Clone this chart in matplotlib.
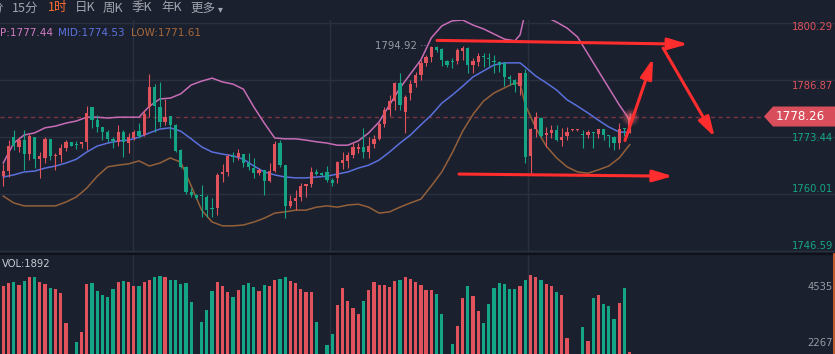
import numpy as np
import matplotlib
matplotlib.use('Agg')
import matplotlib.pyplot as plt
import matplotlib.transforms as mtransforms
from matplotlib.patches import Polygon
from matplotlib.lines import Line2D

# 1h candles (red = up, green = down)
opens = [
    1764.2, 1765.4, 1773.4, 1771.1, 1772.7, 1769.4, 1773.4, 1768.2, 1768.5, 1773.0,
    1769.0, 1769.2, 1770.8, 1772.3, 1771.6, 1771.8, 1772.3, 1780.5, 1777.4, 1775.8,
    1774.6, 1773.0, 1772.3, 1774.6, 1772.0, 1773.2, 1774.8, 1773.9, 1780.5, 1785.2,
    1780.5, 1777.0, 1778.4, 1776.3, 1770.4, 1766.4, 1760.5, 1759.8, 1759.6, 1759.3,
    1756.6, 1756.7, 1764.7, 1765.2, 1769.0, 1768.7, 1769.4, 1767.3, 1766.1, 1764.9,
    1765.7, 1763.1, 1765.4, 1772.0, 1766.8, 1757.2, 1758.3, 1759.3, 1761.9, 1762.4,
    1765.2, 1764.9, 1765.2, 1763.3, 1763.8, 1767.3, 1767.8, 1769.2, 1770.6, 1771.1,
    1769.9, 1771.8, 1773.0, 1776.5, 1779.8, 1781.9, 1786.2, 1779.3, 1783.8, 1786.2,
    1788.0, 1790.9, 1792.3, 1794.6, 1794.2, 1791.3, 1791.1, 1791.3, 1793.7, 1794.4,
    1790.4, 1791.1, 1792.5, 1792.0, 1791.3, 1791.1, 1790.9, 1787.6, 1786.9, 1785.4,
    1788.5, 1769.0, 1775.3, 1777.9, 1773.9, 1774.4, 1775.1, 1772.7, 1773.7, 1775.0,
    1775.0, 1774.0, 1773.9, 1774.5, 1774.1, 1775.3, 1773.8, 1773.4, 1772.0, 1775.4,
    1774.4]
highs = [
    1767.1, 1772.7, 1775.1, 1773.4, 1775.1, 1774.1, 1773.4, 1769.9, 1773.4, 1773.0,
    1769.7, 1771.8, 1772.7, 1772.3, 1772.5, 1772.3, 1780.7, 1780.5, 1778.6, 1775.8,
    1775.1, 1773.4, 1776.3, 1775.1, 1774.4, 1775.1, 1776.7, 1779.8, 1788.3, 1785.9,
    1786.4, 1782.4, 1778.4, 1776.5, 1770.5, 1766.5, 1761.4, 1760.0, 1762.1, 1759.8,
    1759.1, 1764.9, 1767.1, 1769.4, 1769.9, 1770.6, 1769.4, 1769.7, 1768.5, 1766.1,
    1765.7, 1767.3, 1772.5, 1772.7, 1766.8, 1759.8, 1760.9, 1762.6, 1762.4, 1766.4,
    1765.9, 1765.2, 1766.6, 1763.8, 1767.8, 1769.9, 1769.9, 1772.0, 1772.0, 1775.6,
    1773.4, 1773.9, 1777.0, 1780.5, 1783.3, 1786.4, 1788.5, 1783.3, 1786.9, 1788.7,
    1791.6, 1792.7, 1794.92, 1794.8, 1794.4, 1791.6, 1792.0, 1794.4, 1794.8, 1794.7,
    1792.0, 1793.2, 1793.2, 1793.2, 1792.7, 1791.3, 1791.1, 1788.0, 1787.1, 1788.5,
    1789.5, 1775.6, 1779.3, 1778.1, 1775.8, 1776.3, 1776.3, 1775.6, 1775.8, 1775.2,
    1775.2, 1775.1, 1775.1, 1774.5, 1775.4, 1775.4, 1773.9, 1773.7, 1776.7, 1775.5,
    1779.1]
lows = [
    1761.9, 1764.0, 1770.4, 1769.9, 1765.7, 1768.0, 1766.1, 1763.8, 1767.3, 1768.0,
    1765.7, 1767.5, 1770.1, 1771.3, 1770.6, 1770.8, 1770.4, 1775.6, 1774.6, 1772.7,
    1772.3, 1770.8, 1771.3, 1768.7, 1769.7, 1772.7, 1773.2, 1773.7, 1778.1, 1774.6,
    1775.8, 1776.3, 1773.2, 1770.0, 1766.2, 1760.0, 1759.3, 1758.8, 1754.6, 1754.6,
    1754.6, 1755.1, 1762.8, 1764.2, 1767.5, 1768.0, 1766.4, 1765.7, 1763.8, 1764.5,
    1759.8, 1762.8, 1765.2, 1766.4, 1754.3, 1756.7, 1756.2, 1758.3, 1759.3, 1761.6,
    1764.5, 1764.2, 1762.8, 1761.9, 1762.6, 1765.9, 1766.1, 1768.5, 1769.7, 1768.5,
    1768.5, 1770.8, 1772.7, 1775.8, 1778.4, 1779.8, 1779.8, 1774.4, 1782.2, 1785.2,
    1786.9, 1790.2, 1791.1, 1793.5, 1790.2, 1790.0, 1789.7, 1790.6, 1791.6, 1788.5,
    1788.5, 1790.2, 1789.9, 1790.2, 1788.5, 1788.7, 1785.4, 1785.7, 1784.0, 1783.3,
    1767.3, 1764.9, 1773.4, 1773.4, 1771.1, 1773.2, 1772.5, 1771.3, 1772.7, 1774.9,
    1774.9, 1770.8, 1773.2, 1770.8, 1773.2, 1772.7, 1771.1, 1770.4, 1770.6, 1773.7,
    1774.4]
closes = [
    1765.4, 1771.3, 1771.3, 1772.7, 1769.4, 1773.7, 1768.2, 1769.0, 1773.0, 1769.0,
    1769.2, 1770.8, 1772.3, 1771.3, 1771.5, 1772.3, 1779.1, 1777.4, 1775.8, 1774.6,
    1773.0, 1772.5, 1774.6, 1772.3, 1773.4, 1774.6, 1773.7, 1778.8, 1785.2, 1780.7,
    1777.0, 1778.1, 1776.3, 1770.1, 1766.4, 1760.5, 1759.8, 1759.1, 1759.5, 1756.2,
    1756.5, 1764.5, 1765.2, 1769.0, 1768.7, 1769.7, 1767.3, 1766.4, 1764.9, 1765.7,
    1763.1, 1765.4, 1771.8, 1766.8, 1757.2, 1758.3, 1759.1, 1761.9, 1762.4, 1765.2,
    1764.7, 1764.5, 1763.3, 1762.6, 1767.5, 1768.0, 1769.2, 1771.1, 1771.1, 1769.9,
    1771.3, 1773.0, 1776.5, 1779.8, 1781.9, 1786.2, 1781.0, 1782.9, 1785.9, 1788.0,
    1790.9, 1792.3, 1794.6, 1793.9, 1791.6, 1790.4, 1791.0, 1793.9, 1794.4, 1790.4,
    1791.3, 1792.5, 1792.3, 1791.8, 1791.1, 1790.4, 1787.6, 1787.1, 1785.7, 1788.5,
    1768.7, 1775.3, 1778.1, 1773.7, 1774.4, 1775.1, 1772.7, 1773.4, 1774.6, 1775.1,
    1775.1, 1773.9, 1774.6, 1774.4, 1775.3, 1773.9, 1773.7, 1772.0, 1775.3, 1775.3,
    1778.26]
volumes = [
    4576, 4683, 4738, 4629, 4778, 4952, 4952, 4738, 4657, 4495,
    4454, 4304, 3090, 600, 2308, 2725, 4670, 4697, 4373, 4211,
    4130, 4454, 4738, 4778, 4738, 4576, 4576, 4738, 4819, 4952,
    4981, 4940, 4819, 4819, 4670, 4697, 3928, 600, 3118, 3604,
    4373, 4738, 4576, 4333, 4130, 4414, 4616, 4697, 4535, 4373,
    4616, 4576, 4819, 4859, 4940, 4778, 4697, 4454, 4333, 4333,
    3118, 600, 2186, 2632, 3806, 4495, 3968, 3685, 3442, 3968,
    4414, 4738, 4629, 4616, 4535, 4778, 4819, 4940, 4871, 4738,
    4620, 4414, 4414, 4264, 3442, 600, 2227, 2956, 4090, 4576,
    4171, 3563, 3077, 3847, 4495, 4697, 4657, 4454, 4454, 4576,
    4819, 5021, 4940, 4819, 4657, 4576, 4333, 4211, 2470, 600,
    600, 2915, 2348, 4090, 4211, 3847, 3766, 3239, 3887, 4495,
    1892]

# bollinger bands as drawn on the screenshot
band_idx = list(range(0, 99, 2)) + [99] + list(range(100, 121, 2))
band_up = [
    1767.3, 1772.0, 1773.9, 1774.4, 1775.6, 1776.0, 1776.7, 1777.2, 1778.1, 1778.1,
    1777.9, 1778.1, 1778.1, 1778.1, 1780.7, 1782.4, 1782.6, 1783.6, 1785.7, 1786.6,
    1787.3, 1786.4, 1785.9, 1784.7, 1780.5, 1776.7, 1773.2, 1773.0, 1773.0, 1772.7,
    1772.3, 1772.0, 1771.5, 1771.5, 1772.5, 1774.4, 1777.0, 1781.0, 1785.0, 1788.3,
    1791.6, 1796.8, 1799.6, 1800.8, 1801.0, 1799.8, 1798.9, 1797.7, 1796.5, 1796.1,
    1797.5,
    1802.9, 1804.5, 1801.7, 1800.5, 1799.1, 1797.0, 1793.0, 1789.0, 1785.0, 1781.0,
    1777.44]
band_mid = [
    1764.0, 1764.5, 1765.2, 1765.4, 1766.1, 1766.6, 1767.3, 1768.2, 1769.9, 1771.3,
    1772.0, 1772.5, 1772.7, 1773.4, 1774.4, 1775.3, 1775.6, 1774.8, 1773.0, 1771.1,
    1769.9, 1769.4, 1769.0, 1768.2, 1766.6, 1765.2, 1764.5, 1764.0, 1763.8, 1763.8,
    1764.0, 1764.2, 1764.7, 1765.2, 1766.1, 1766.8, 1768.0, 1769.9, 1772.0, 1773.9,
    1776.3, 1778.6, 1781.4, 1783.3, 1785.4, 1787.6, 1789.0, 1790.4, 1790.9, 1790.9,
    1790.9,
    1789.9, 1787.8, 1786.2, 1784.5, 1782.2, 1780.7, 1779.1, 1777.4, 1775.8, 1774.6,
    1774.53]
band_low = [
    1759.5, 1757.9, 1757.2, 1757.2, 1757.2, 1757.2, 1758.1, 1759.3, 1761.4, 1764.2,
    1766.4, 1766.8, 1767.1, 1767.8, 1766.6, 1767.3, 1768.5, 1767.5, 1761.9, 1756.2,
    1753.4, 1752.5, 1752.5, 1752.7, 1753.4, 1754.3, 1755.5, 1755.8, 1756.2, 1756.2,
    1756.9, 1757.2, 1756.9, 1757.4, 1757.6, 1756.9, 1755.5, 1755.8, 1756.9, 1757.9,
    1758.8, 1761.9, 1765.2, 1769.7, 1774.8, 1778.8, 1781.9, 1783.8, 1785.0, 1786.2,
    1786.0,
    1781.0, 1775.6, 1771.3, 1768.5, 1766.4, 1765.2, 1764.9, 1765.7, 1766.6, 1768.5,
    1771.61]

price_ticks = [1800.29, 1786.87, 1773.44, 1760.01, 1746.59]
price_tick_dy = [-4, -6, -1, 5, 5]      # label offset from its grid line, px
vol_ticks = [4535, 2267]
last_price = 1778.26
high_price = 1794.92
high_idx = 82
last_vol = 1892
tabs = ['15分', '1时', '日K', '周K', '季K', '年K', '更多']
tab_x = [12, 48, 75, 103, 132, 161, 190]

# hand drawn red arrows (candle index, price)
arrows = [((83.1, 1796.2), (131.2, 1795.3)),
          ((87.3, 1764.7), (128.3, 1764.2)),
          ((119.1, 1772.6), (124.5, 1792.0)),
          ((126.4, 1794.4), (136.3, 1773.4))]

BG = '#1b202e'
GRID = '#293040'
RED = '#e0525c'
GREEN = '#14a587'
PINK = '#c76cb6'
BLUE = '#5a70dc'
BROWN = '#93603a'
GRAY = '#969ba5'
ARROW = '#ff2d2d'
CJK = ['Noto Sans CJK SC', 'DejaVu Sans']

plt.rcParams['font.family'] = ['DejaVu Sans']

W, H = 835, 354
fig = plt.figure(figsize=(W / 100, H / 100), dpi=100)
fig.patch.set_facecolor(BG)

ax = fig.add_axes([0, 1 - 253 / H, 1, (253 - 20) / H])
axv = fig.add_axes([0, 0, 1, 100 / H])
for a in (ax, axv):
    a.set_facecolor(BG)
    for s in a.spines.values():
        s.set_visible(False)
    a.set_xticks([])
    a.set_yticks([])
    a.set_xlim(-0.63, 159.33)
    for gx in (24.85, 62.6, 100.5):
        a.axvline(gx, color=GRID, lw=1, zorder=0)

ax.set_ylim(1746.1, 1801.0)
axv.set_ylim(1821.5, 5871.5)

for t in price_ticks:
    ax.axhline(t, color=GRID, lw=1, zorder=0)

o = np.array(opens)
c = np.array(closes)
h = np.array(highs)
l = np.array(lows)
idx = np.arange(len(c))
cols = np.where(c >= o, RED, GREEN)

# candles
ax.vlines(idx, l, h, colors=cols, lw=0.8, zorder=3)
body_h = np.maximum(np.abs(c - o), 0.25)
ax.bar(idx, body_h, 0.62, bottom=np.minimum(o, c), color=cols, linewidth=0, zorder=3)

# bollinger
ax.plot(band_idx, band_up, color=PINK, lw=1.1, zorder=2)
ax.plot(band_idx, band_mid, color=BLUE, lw=1.1, zorder=2)
ax.plot(band_idx, band_low, color=BROWN, lw=1.1, zorder=2)

# volume
axv.bar(idx, volumes, 0.62, color=cols, linewidth=0)

# last price line and tag
ax.axhline(last_price, xmin=0, xmax=764 / W, color='#7a3441', lw=1,
           ls=(0, (3, 2.5)), zorder=1)
ppp = (ax.get_ylim()[1] - ax.get_ylim()[0]) / (233.0)
bt = mtransforms.blended_transform_factory(ax.transAxes, ax.transData)
dh = 10 * ppp
tag = Polygon([(764 / W, last_price), (773 / W, last_price + dh), (1, last_price + dh),
               (1, last_price - dh), (773 / W, last_price - dh)],
              closed=True, transform=bt, facecolor='#d94e5b', edgecolor='none',
              zorder=6, clip_on=False)
ax.add_patch(tag)
ax.text(800 / W, last_price, f'{last_price:.2f}', transform=bt, ha='center',
        va='center', color='white', fontsize=8.6, zorder=7)

# glow on the last candle
for s, al in ((160, 0.12), (90, 0.2), (35, 0.35)):
    ax.scatter([idx[-1]], [last_price], s=s, color='#ff6a78', alpha=al,
               linewidths=0, zorder=4)

# right axis labels
for t, dy in zip(price_ticks, price_tick_dy):
    col = RED if t > last_price else GREEN
    ax.annotate(f'{t:.2f}', xy=(1, t), xycoords=bt, xytext=(-2, dy),
                textcoords='offset pixels', ha='right', va='center',
                color=col, fontsize=7.2, zorder=5)
bv = mtransforms.blended_transform_factory(axv.transAxes, axv.transData)
for t in vol_ticks:
    axv.annotate(f'{t}', xy=(1, t), xycoords=bv, xytext=(-2, 0),
                 textcoords='offset pixels', ha='right', va='center',
                 color=GRAY, fontsize=7.2)

# high marker
ax.annotate(f'{high_price:.2f} ··', xy=(high_idx, high_price), xytext=(-5, 0),
            textcoords='offset pixels', ha='right', va='center', color=GRAY,
            fontsize=7.3, zorder=5)

# red arrows
for (x0, y0), (x1, y1) in arrows:
    ax.annotate('', xy=(x1, y1), xytext=(x0, y0),
                arrowprops=dict(arrowstyle='-|>,head_length=1.2,head_width=0.35',
                                color=ARROW, lw=2.2, mutation_scale=10,
                                shrinkA=0, shrinkB=0),
                zorder=8)

# header tabs
fig.text(4 / W, 1 - 8 / H, '5分', ha='right', va='center', color=GRAY,
         fontsize=9, family=CJK)
for name, x in zip(tabs, tab_x):
    col = '#ff6e32' if name == '1时' else '#a0a5af'
    fig.text(x / W, 1 - 8 / H, name, ha='left', va='center', color=col,
             fontsize=9, family=CJK)
fig.text(218 / W, 1 - 9 / H, '▾', ha='left', va='center', color='#a0a5af',
         fontsize=7)

# bollinger legend
fig.text(0, 1 - 33 / H, f'P:{band_up[-1]:.2f}', ha='left', va='center',
         color='#d27cc4', fontsize=7.5)
fig.text(58 / W, 1 - 33 / H, f'MID:{band_mid[-1]:.2f}', ha='left', va='center',
         color='#5b73e0', fontsize=7.5)
fig.text(131 / W, 1 - 33 / H, f'LOW:{band_low[-1]:.2f}', ha='left', va='center',
         color='#a8683a', fontsize=7.5)

fig.text(2 / W, 1 - 264 / H, f'VOL:{last_vol}', ha='left', va='center',
         color='#c8ccd4', fontsize=7.2)

# panel separator and right edge marker
fig.add_artist(Line2D([0, 1], [1 - 253.5 / H] * 2, transform=fig.transFigure,
                      color='#0e1119', lw=1.6))
fig.add_artist(Line2D([834.3 / W] * 2, [0, 100 / H], transform=fig.transFigure,
                      color='#e8662c', lw=1.2))

fig.savefig('out.png', dpi=100, facecolor=BG)
